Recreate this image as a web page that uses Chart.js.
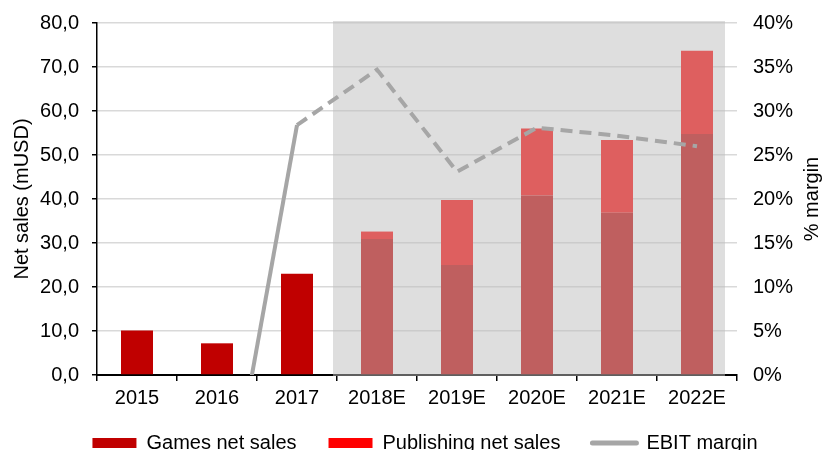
<!DOCTYPE html>
<html>
<head>
<meta charset="utf-8">
<script src="https://cdn.jsdelivr.net/npm/chart.js@4.4.1/dist/chart.umd.min.js"></script>
<style>
  html, body { margin: 0; padding: 0; background: #fff; overflow: hidden; }
  #wrap { width: 822px; height: 474px; }
</style>
</head>
<body>
<div id="wrap"><canvas id="myChart"></canvas></div>
<script>
const years = ['2015', '2016', '2017', '2018E', '2019E', '2020E', '2021E', '2022E'];
const gamesSales = [10.1, 7.2, 23.0, 30.9, 25.0, 40.8, 36.9, 54.8];
const publishingSales = [null, null, null, 1.7, 14.8, 15.2, 16.5, 18.9];
const ebitMargin = [null, -22.0, 28.4, 34.7, 23.1, 28.1, 27.2, 26.0]; // %
const firstForecast = 3; // index of 2018E

const FONT = '"Liberation Sans", Arial, sans-serif';
Chart.defaults.font.family = FONT;
Chart.defaults.font.size = 20;
Chart.defaults.color = '#000';

// grey band over the forecast years, drawn just before the line so bars get tinted
const forecastBand = {
  id: 'forecastBand',
  beforeDatasetDraw(chart, args) {
    if (args.meta.type !== 'line') return;
    const x = chart.scales.x;
    const area = chart.chartArea;
    const ctx = chart.ctx;
    const left = x.getPixelForValue(firstForecast) - 44;
    const right = x.getPixelForValue(years.length - 1) + 28;
    ctx.save();
    ctx.fillStyle = 'rgba(190,190,190,0.5)';
    ctx.fillRect(left, area.top - 2, right - left, area.bottom - area.top + 3);
    ctx.restore();
  }
};

// right axis title reads bottom-to-top like the original
const rightTitle = {
  id: 'rightTitle',
  afterDraw(chart) {
    const s = chart.scales.y1;
    const ctx = chart.ctx;
    ctx.save();
    ctx.translate(s.right - 10, (s.top + s.bottom) / 2);
    ctx.rotate(-Math.PI / 2);
    ctx.font = '20px ' + FONT;
    ctx.fillStyle = '#000';
    ctx.textAlign = 'center';
    ctx.textBaseline = 'middle';
    ctx.fillText('% margin', 0, 0);
    ctx.restore();
  }
};

// pull the legend a bit closer to the axis (the original is cut off at the bottom)
const legendShift = {
  id: 'legendShift',
  afterLayout(chart) {
    const lg = chart.legend;
    if (!lg) return;
    lg.top -= 11;
    lg.bottom -= 11;
    lg.left += 14;
    lg.right += 14;
  }
};

const myChart = new Chart(document.getElementById('myChart'), {
  type: 'bar',
  data: {
    labels: years,
    datasets: [
      {
        label: 'Games net sales',
        data: gamesSales,
        backgroundColor: '#C00000',
        yAxisID: 'y',
        stack: 'sales',
        barPercentage: 0.4,
        categoryPercentage: 1.0,
        order: 1,
      },
      {
        label: 'Publishing net sales',
        data: publishingSales,
        backgroundColor: '#FF0000',
        yAxisID: 'y',
        stack: 'sales',
        barPercentage: 0.4,
        categoryPercentage: 1.0,
        order: 2,
      },
      {
        type: 'line',
        label: 'EBIT margin',
        data: ebitMargin,
        borderColor: '#A6A6A6',
        backgroundColor: '#A6A6A6',
        borderWidth: 4,
        pointRadius: 0,
        tension: 0,
        clip: 0,
        yAxisID: 'y1',
        order: 0,
        segment: {
          borderDash: (ctx) => (ctx.p0DataIndex >= 2 ? [12, 7] : undefined),
        },
      },
    ],
  },
  options: {
    responsive: true,
    maintainAspectRatio: false,
    animation: false,
    layout: { padding: { top: 23, left: 0, right: 0, bottom: 0 } },
    plugins: {
      tooltip: { enabled: false },
      legend: {
        position: 'bottom',
        labels: {
          usePointStyle: true,
          pointStyleWidth: 44,
          boxHeight: 10,
          padding: 32,
          color: '#000',
          font: { size: 20 },
          sort: (a, b) => a.datasetIndex - b.datasetIndex,
          generateLabels: (chart) => {
            const items = Chart.defaults.plugins.legend.labels.generateLabels(chart);
            items.forEach((it) => {
              if (it.datasetIndex === 2) {
                it.pointStyle = 'line';
                it.lineWidth = 5;
                it.lineCap = 'round';
                it.lineDash = [];
              } else {
                it.pointStyle = 'rect';
                it.lineWidth = 0;
              }
            });
            return items;
          },
        },
      },
    },
    scales: {
      x: {
        stacked: true,
        offset: true,
        grid: {
          offset: true,
          drawOnChartArea: false,
          drawTicks: true,
          tickLength: 6,
          color: '#000',
          lineWidth: 1.5,
        },
        border: { color: '#000', width: 2 },
        ticks: { padding: 5, maxRotation: 0, font: { size: 20 } },
        afterFit: (scale) => { scale.height = 37; },
      },
      y: {
        stacked: true,
        position: 'left',
        min: 0,
        max: 80,
        ticks: {
          stepSize: 10,
          padding: 13,
          font: { size: 20 },
          callback: (v) => v.toFixed(1).replace('.', ','),
        },
        grid: {
          color: '#D9D9D9',
          lineWidth: 1.5,
          tickColor: '#000',
          tickLength: 5,
        },
        border: { color: '#000', width: 1.5 },
        title: {
          display: true,
          text: 'Net sales (mUSD)',
          font: { size: 20 },
          padding: { top: 10, bottom: 6 },
        },
        afterFit: (scale) => {
          scale.width = 97;
          scale.paddingTop = 12;
          scale.paddingBottom = 12;
        },
      },
      y1: {
        position: 'right',
        min: 0,
        max: 40,
        ticks: {
          stepSize: 5,
          padding: 16,
          font: { size: 20 },
          callback: (v) => v + '%',
        },
        grid: { display: false, drawOnChartArea: false, drawTicks: false },
        border: { display: false },
        title: {
          display: true,
          text: '% margin',
          color: 'rgba(0,0,0,0)',
          font: { size: 20 },
          padding: { top: 0, bottom: 5 },
        },
        afterFit: (scale) => {
          scale.width = 85;
          scale.paddingTop = 12;
          scale.paddingBottom = 12;
        },
      },
    },
  },
  plugins: [forecastBand, rightTitle, legendShift],
});
</script>
</body>
</html>
